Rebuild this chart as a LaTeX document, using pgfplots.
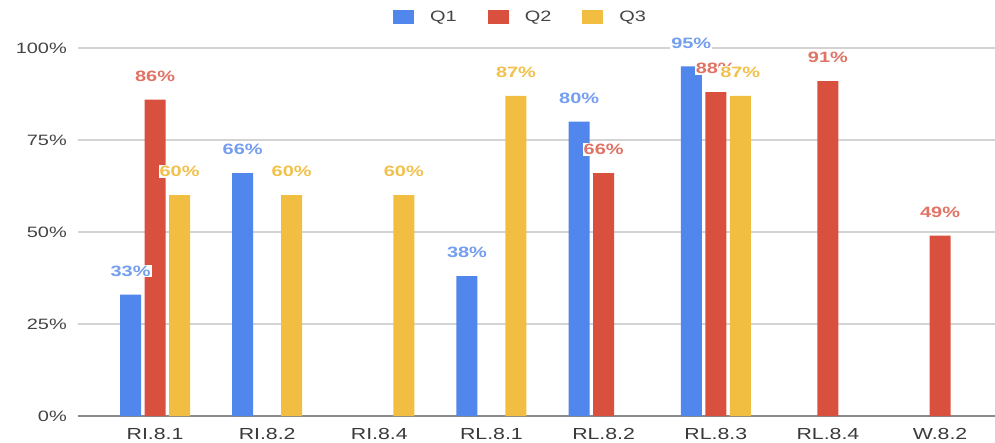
\documentclass[border=0pt]{standalone}
\usepackage{pgfplots}
\pgfplotsset{compat=1.18}
\usepackage{pgfplotstable}
\usepackage{fontspec}
\setmainfont{Liberation Sans}[FakeStretch=1.33]

\definecolor{qblue}{HTML}{5186EC}
\definecolor{qred}{HTML}{D9503E}
\definecolor{qyellow}{HTML}{F1BE42}
\definecolor{ticktext}{HTML}{444444}
\definecolor{gridgray}{HTML}{D3D3D3}
\definecolor{basegray}{HTML}{8A8A8A}

% Share of students per standard and quarter (nan = not assessed)
\pgfplotstableread{
x  q1   q2   q3
0  33   86   60
1  66   nan  60
2  nan  nan  60
3  38   nan  87
4  80   66   nan
5  95   88   87
6  nan  91   nan
7  nan  49   nan
}\scores

\begin{document}
\begin{tikzpicture}
\useasboundingbox (-78pt,-26pt) rectangle (917pt,416pt);
\begin{axis}[
  at={(0pt,0pt)}, anchor=south west,
  scale only axis,
  width=917pt, height=368pt,
  /pgf/number format/assume math mode=true,
  ybar=3.5pt, bar width=21pt,
  xmin=-0.687, xmax=7.49,
  ymin=0, ymax=100,
  clip=false,
  axis line style={draw=none},
  major tick length=0pt,
  xtick={0,...,7},
  xticklabels={RI.8.1,RI.8.2,RI.8.4,RL.8.1,RL.8.2,RL.8.3,RL.8.4,W.8.2},
  xticklabel style={font=\fontsize{16}{19}\selectfont, text=ticktext!85!black,
    inner sep=0pt, anchor=north, yshift=-12pt},
  ytick={0,25,50,75,100},
  yticklabels={0\%,25\%,50\%,75\%,100\%},
  yticklabel style={font=\fontsize{15}{18}\selectfont, text=ticktext,
    inner sep=0pt, anchor=east, xshift=-11pt},
  ymajorgrids,
  grid style={gridgray, line width=1.2pt},
  extra y ticks={0},
  extra y tick labels={},
  extra y tick style={grid style={basegray, line width=1.6pt}},
  nodes near coords={\pgfmathprintnumber{\pgfplotspointmeta}\%},
  % value labels sit on a thin white halo, as in the sheet export
  every node near coord/.append style={font=\fontsize{15}{18}\selectfont\bfseries,
    inner sep=1pt, fill=white, anchor=south, yshift=17pt},
  legend columns=3,
  legend style={at={(0.3435,1.0842)}, anchor=west, draw=none, fill=none,
    inner sep=0pt, font=\fontsize{15}{18}\selectfont, text=ticktext,
    cells={anchor=west},
    nodes={inner sep=0pt},
    /tikz/every even column/.append style={column sep=31pt}},
  legend image code/.code={
    \path[#1, draw=none] (0pt,-7pt) rectangle (21pt,7pt);
    \path (37pt,0pt);
  },
]
\addplot[fill=qblue, draw=none,
  every node near coord/.append style={text=qblue!80!white}]
  table[x=x, y=q1] {\scores};
\addplot[fill=qred, draw=none,
  every node near coord/.append style={text=qred!80!white}]
  table[x=x, y=q2] {\scores};
\addplot[fill=qyellow, draw=none,
  every node near coord/.append style={text=qyellow!95!white}]
  table[x=x, y=q3] {\scores};
\legend{Q1,Q2,Q3}
\end{axis}
\end{tikzpicture}
\end{document}
